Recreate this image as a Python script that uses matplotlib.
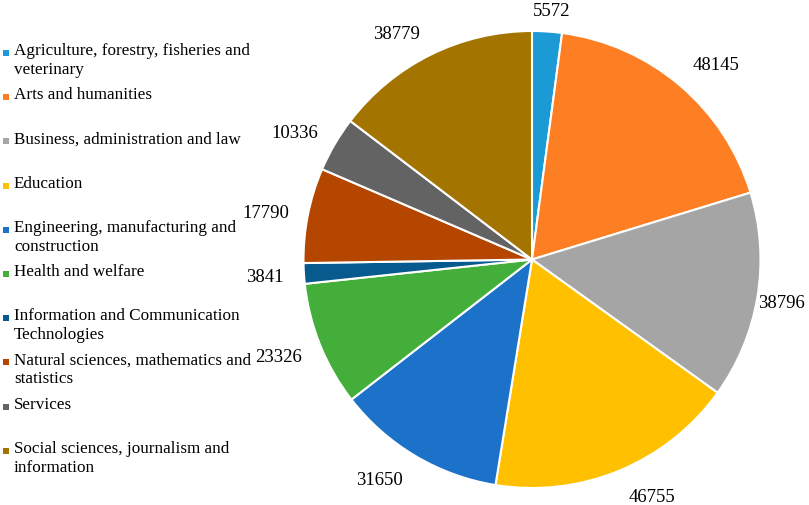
import numpy as np
import matplotlib
matplotlib.use('Agg')
import matplotlib.pyplot as plt

plt.rcParams['font.family'] = ['Liberation Serif', 'DejaVu Serif']

# Data
CATEGORIES = [
    'Agriculture, forestry, fisheries and\nveterinary',
    'Arts and humanities',
    'Business, administration and law',
    'Education',
    'Engineering, manufacturing and\nconstruction',
    'Health and welfare',
    'Information and Communication\nTechnologies',
    'Natural sciences, mathematics and\nstatistics',
    'Services',
    'Social sciences, journalism and\ninformation',
]
VALUES = [5572, 48145, 38796, 46755, 31650, 23326, 3841, 17790, 10336, 38779]
COLORS = ['#1B9AD6', '#FD7E23', '#A5A5A5', '#FFC000', '#1C71C8',
          '#43AE3A', '#065A8D', '#B44600', '#636363', '#A37500']

# value label placement: distance in pie radii, angle shift from slice middle (deg)
LABEL_R = [1.09, 1.17, 1.11, 1.165, 1.175, 1.19, 1.17, 1.18, 1.175, 1.15]
LABEL_DANG = [0.8, 3.3, 0.7, -4.2, 4.0, 0.9, -0.4, -1.4, -2.4, -4.7]

W, H = 809, 505
CX, CY, R = 532, 259.5, 228.5

fig = plt.figure(figsize=(W / 100, H / 100), dpi=100)
ax = fig.add_axes([(CX - R) / W, (H - CY - R) / H, 2 * R / W, 2 * R / H])

wedges, _ = ax.pie(VALUES, colors=COLORS, startangle=90, counterclock=False,
                   wedgeprops=dict(edgecolor='white', linewidth=1.5))
ax.set_xlim(-1, 1)
ax.set_ylim(-1, 1)

# value labels outside the slices
total = float(sum(VALUES))
cum = np.cumsum([0] + VALUES)
for i, v in enumerate(VALUES):
    theta = np.deg2rad((cum[i] + v / 2) / total * 360 + LABEL_DANG[i])
    r = LABEL_R[i]
    ax.text(r * np.sin(theta), r * np.cos(theta), str(v),
            ha='center', va='center', fontsize=13.5, color='black')

# legend drawn in pixel coordinates
lax = fig.add_axes([0, 0, 1, 1])
lax.set_xlim(0, W)
lax.set_ylim(H, 0)
lax.axis('off')
lax.patch.set_alpha(0)
y0, step = 53, 44.2
for i, (lab, col) in enumerate(zip(CATEGORIES, COLORS)):
    y = y0 + i * step
    lax.scatter([6], [y], marker='s', s=24, color=col, linewidths=0)
    lax.text(14, y - 10, lab, ha='left', va='top', fontsize=12.3,
             linespacing=1.25, color='black')

fig.savefig('out.png', dpi=100)
